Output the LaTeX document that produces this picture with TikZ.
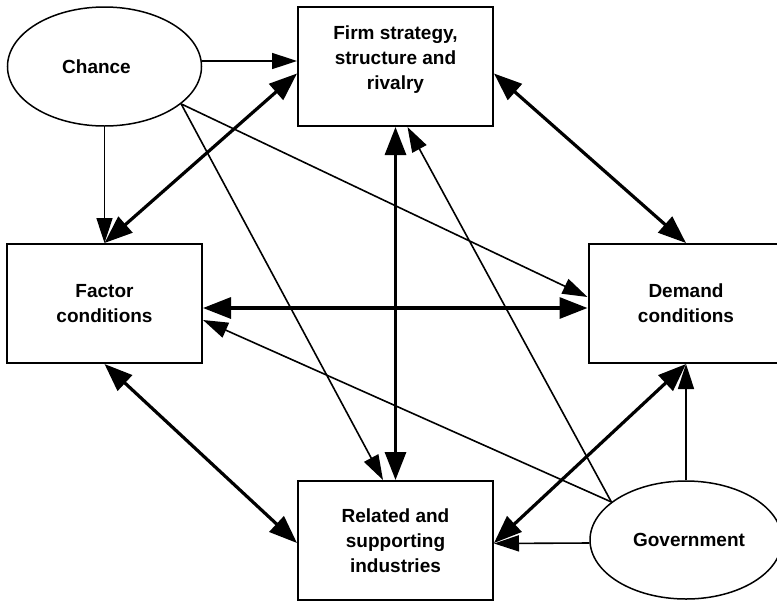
\documentclass[tikz,border=0pt]{standalone}
\usepackage{fontspec}
\setmainfont{Liberation Sans}
\usetikzlibrary{shapes.geometric,arrows.meta}
\newcommand{\drawoneway}[2]{
\draw[oneway] (#1) -- (#2);
}
\newcommand{\drawtwoway}[2]{
\draw[twoway] (#1) -- (#2);
}

\begin{document}
\begin{tikzpicture}[x=0.5pt,y=-0.5pt,
    box/.style={draw,line width=1pt,minimum width=97.5pt,minimum height=59.5pt,inner sep=0pt,align=center},
    oval/.style={draw,ellipse,line width=0.75pt,minimum width=97pt,minimum height=59.5pt,inner sep=0pt,align=center},
    oneway/.style={line width=0.8pt,-{Triangle[length=12.5pt,width=8pt]}},
    twoway/.style={line width=1.6pt,{Triangle[length=14pt,width=10.5pt]}-{Triangle[length=14pt,width=10.5pt]}},
    font=\fontsize{9.5pt}{12.5pt}\selectfont\bfseries]
\useasboundingbox (0,0) rectangle (777,601);
	\begin{scope}
\node[oval] (chance) at (104.5,66.5) {Chance\hspace*{8pt}};
\node[box] (firm) at (395.5,66.5) {Firm strategy,\\ structure and\\ rivalry\\[-3.5pt]\mbox{}};
\node[box] (factor) at (104.5,303.5) {Factor\\ conditions};
\node[box] (demand) at (686,303.5) {Demand\\ conditions};
\node[box] (related) at (395.5,540.5) {Related and\\ supporting\\ industries};
\node[oval,minimum width=96pt,minimum height=59pt] (gov) at (686,540) {\hspace*{3pt}Government};
% chance
    \drawoneway{[yshift=2.75pt]chance.east}{[yshift=2.75pt]firm.west}
    \drawoneway{chance.south}{factor.north}
    \drawoneway{chance.-26.4}{[yshift=3.25pt]demand.west}
    \drawoneway{chance.-26.4}{[xshift=-6.25pt]related.north}
% government
    \drawoneway{gov.153.7}{[xshift=6pt]firm.south}
    \drawoneway{gov.153.7}{[yshift=-8.25pt]factor.east}
    \drawoneway{gov.north}{demand.south}
    \drawoneway{[yshift=-1.5pt]gov.west}{[yshift=-1.5pt]related.east}
% diamond
    \drawtwoway{[yshift=-3.5pt]firm.west}{factor.north}
    \drawtwoway{[yshift=-3.5pt]firm.east}{demand.north}
    \drawtwoway{factor.south}{[yshift=-1.25pt]related.west}
    \drawtwoway{[yshift=-1.25pt]related.east}{demand.south}
    \drawtwoway{firm.south}{related.north}
    \drawtwoway{[yshift=-2.25pt]factor.east}{[yshift=-2.25pt]demand.west}
	\end{scope}
\end{tikzpicture}
\end{document}
